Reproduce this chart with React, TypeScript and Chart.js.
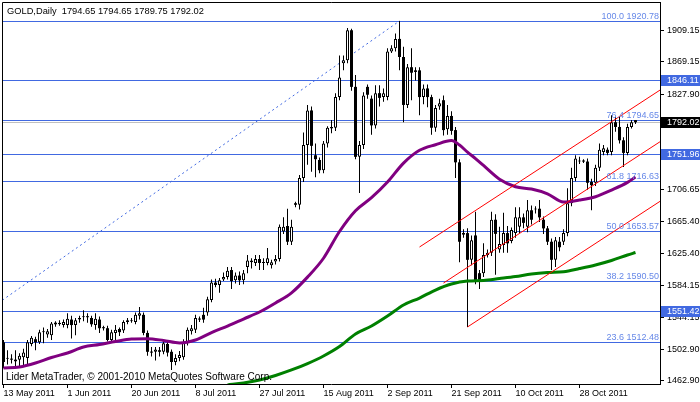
import React, { useEffect, useRef } from 'react';
import { Chart, registerables } from 'chart.js';

Chart.register(...registerables);

// ---------- data ----------
const titleText = 'GOLD,Daily  1794.65 1794.65 1789.75 1792.02';
const copyrightText = 'Lider MetaTrader, \u00A9 2001-2010 MetaQuotes Software Corp.';

const xTickIndex = [0, 16, 32, 48, 64, 80, 96, 112, 128, 144];
const xTickLabels = ['13 May 2011', '1 Jun 2011', '20 Jun 2011', '8 Jul 2011', '27 Jul 2011', '15 Aug 2011', '2 Sep 2011', '21 Sep 2011', '10 Oct 2011', '28 Oct 2011'];
const yTickValues = [1909.15, 1869.15, 1827.9, 1787.9, 1746.65, 1706.65, 1665.4, 1625.4, 1584.15, 1544.15, 1502.9, 1462.9];

// daily candles: [open, high, low, close]
const ohlc: [number, number, number, number][] = [
  [1512, 1515, 1479, 1487], [1491, 1502, 1484, 1492], [1491, 1497, 1485, 1490], [1490, 1502, 1481, 1488],
  [1490, 1498, 1482, 1495], [1493, 1504, 1483, 1499], [1492, 1515, 1483, 1512], [1510, 1520, 1507, 1518],
  [1516, 1519, 1502, 1512], [1512, 1528, 1510, 1525], [1525, 1531, 1511, 1526], [1522, 1529, 1518, 1526],
  [1521, 1538, 1515, 1536], [1537, 1539, 1532, 1535], [1535, 1540, 1533, 1537], [1534, 1541, 1531, 1538],
  [1534, 1549, 1530, 1542], [1541, 1546, 1517, 1534], [1534, 1543, 1521, 1540], [1541, 1546, 1537, 1543],
  [1544, 1553, 1539, 1545], [1545, 1549, 1537, 1544], [1543, 1546, 1532, 1535], [1534, 1549, 1528, 1542],
  [1541, 1545, 1524, 1530], [1531, 1533, 1527, 1530], [1530, 1533, 1513, 1515], [1515, 1528, 1512, 1525],
  [1524, 1534, 1512, 1528], [1529, 1531, 1520, 1525], [1527, 1540, 1524, 1538], [1538, 1543, 1535, 1540],
  [1539, 1543, 1537, 1540], [1538, 1550, 1535, 1547], [1546, 1557, 1541, 1549], [1547, 1550, 1521, 1524],
  [1524, 1527, 1495, 1500], [1500, 1506, 1494, 1499], [1500, 1506, 1489, 1503], [1502, 1506, 1494, 1500],
  [1500, 1514, 1497, 1511], [1510, 1514, 1494, 1499], [1500, 1503, 1477, 1487], [1487, 1497, 1483, 1492],
  [1492, 1501, 1488, 1496], [1493, 1516, 1490, 1512], [1512, 1531, 1508, 1528], [1526, 1534, 1522, 1530],
  [1528, 1547, 1524, 1543], [1542, 1545, 1538, 1541], [1547, 1556, 1537, 1541], [1550, 1570, 1546, 1567],
  [1566, 1592, 1563, 1588], [1588, 1593, 1582, 1585], [1585, 1594, 1575, 1591], [1592, 1601, 1590, 1595],
  [1595, 1608, 1592, 1603], [1604, 1608, 1580, 1590], [1591, 1601, 1587, 1597], [1597, 1602, 1585, 1591],
  [1591, 1604, 1586, 1600], [1608, 1623, 1600, 1616], [1614, 1619, 1606, 1616], [1613, 1623, 1609, 1618],
  [1618, 1623, 1604, 1613], [1613, 1619, 1604, 1613.5], [1613, 1632, 1610, 1619], [1610, 1617, 1606, 1614],
  [1615, 1623, 1611, 1618], [1618, 1662, 1615, 1659], [1653, 1671, 1650, 1659], [1660, 1682, 1636, 1640],
  [1640, 1668, 1636, 1659], [1689, 1691, 1684, 1687], [1687, 1725, 1681, 1721], [1721, 1779, 1716, 1763],
  [1763, 1814, 1738, 1807], [1807, 1812, 1729, 1762], [1750, 1765, 1722, 1745], [1744, 1747, 1727, 1731],
  [1731, 1768, 1727, 1765], [1765, 1787, 1760, 1785], [1784, 1795, 1778, 1786], [1785, 1829, 1781, 1824],
  [1824, 1877, 1820, 1849], [1867, 1877, 1858, 1871], [1871, 1912, 1867, 1909], [1909, 1911, 1832, 1837],
  [1837, 1852, 1745, 1748], [1748, 1768, 1702, 1763], [1763, 1830, 1758, 1826], [1837, 1840, 1822, 1827],
  [1822, 1826, 1776, 1788], [1788, 1839, 1784, 1829], [1829, 1839, 1812, 1823], [1824, 1835, 1818, 1829],
  [1824, 1886, 1820, 1882], [1882, 1890, 1880, 1886], [1886, 1905, 1882, 1898], [1898, 1920.78, 1858, 1875],
  [1875, 1888, 1792, 1814], [1814, 1866, 1810, 1862], [1862, 1886, 1820, 1855], [1858, 1862, 1845, 1856],
  [1858, 1862, 1801, 1824], [1824, 1840, 1815, 1835], [1835, 1840, 1811, 1824], [1824, 1827, 1776, 1785],
  [1785, 1814, 1780, 1810], [1812, 1822, 1808, 1816], [1820, 1826, 1775, 1782], [1783, 1814, 1776, 1800],
  [1800, 1806, 1776, 1781], [1782, 1786, 1721, 1741], [1741, 1745, 1614, 1640], [1649, 1656, 1645, 1651],
  [1651, 1657, 1531.6, 1617], [1617, 1648, 1610, 1642], [1648, 1678, 1586, 1591], [1600, 1604, 1580, 1589],
  [1600, 1638, 1595, 1623], [1623, 1630, 1620, 1626], [1626, 1678, 1622, 1668], [1668, 1675, 1598, 1650],
  [1630, 1659, 1626, 1637], [1636, 1677, 1626, 1651], [1651, 1660, 1626, 1638], [1641, 1658, 1638, 1655],
  [1651, 1684, 1645, 1671], [1659, 1684, 1651, 1671], [1671, 1676, 1657, 1664], [1659, 1693, 1652, 1680],
  [1680, 1686, 1662, 1668], [1681, 1685, 1676, 1682], [1682, 1693, 1665, 1671], [1668, 1672, 1650, 1657],
  [1657, 1660, 1636, 1640], [1640, 1644, 1604, 1617], [1617, 1646, 1608, 1642], [1640, 1646, 1628, 1633],
  [1640, 1656, 1636, 1651], [1651, 1708, 1647, 1689], [1689, 1734, 1685, 1721], [1721, 1750, 1717, 1746],
  [1742, 1748, 1739, 1743], [1743, 1745, 1740, 1742], [1742, 1746, 1706, 1715], [1716, 1720, 1680, 1712],
  [1715, 1738, 1711, 1734], [1734, 1765, 1730, 1757], [1754, 1763, 1750, 1759], [1757, 1760, 1750, 1753],
  [1754, 1801, 1750, 1792], [1792, 1799, 1780, 1786], [1786, 1799, 1765, 1769], [1769, 1773, 1735, 1753],
  [1753, 1790, 1750, 1786], [1786, 1795, 1784, 1792], [1794.65, 1794.65, 1789.75, 1792.02],
];

// moving averages read at bar indices: [barIndex, value]
const purpleMA: [number, number][] = [
  [0, 1479.4], [4, 1480.7], [8, 1485.8], [12, 1492.8], [16, 1498.5], [20, 1506.1], [24, 1509.3], [28, 1513.1],
  [32, 1516.3], [36, 1516.7], [40, 1514.4], [44, 1511.2], [48, 1515.0], [52, 1524.5], [56, 1532.8], [60, 1541.7],
  [64, 1550.6], [68, 1562.1], [72, 1575.0], [76, 1595.0], [80, 1619.0], [84, 1653.0], [88, 1679.5], [92, 1696.0],
  [96, 1715.9], [100, 1740.0], [104, 1756.3], [108, 1763.4], [112, 1768.7], [114, 1763.0], [116, 1754.0],
  [118, 1745.8], [120, 1737.0], [124, 1719.6], [128, 1710.0], [132, 1707.0], [136, 1701.0], [140, 1690.5],
  [144, 1693.0], [148, 1697.2], [152, 1705.7], [156, 1715.5], [158, 1722.3],
];
const greenMA: [number, number][] = [
  [56, 1457.8], [60, 1460.3], [64, 1464.2], [68, 1469.9], [72, 1476.9], [76, 1485.1], [80, 1494.7], [84, 1506.7],
  [88, 1522.7], [92, 1532.8], [96, 1545.5], [100, 1559.5], [104, 1568.4], [108, 1578.6], [112, 1586.2],
  [116, 1590.0], [120, 1590.7], [124, 1593.2], [128, 1595.8], [132, 1598.9], [136, 1600.8], [140, 1601.9],
  [144, 1605.9], [148, 1610.4], [152, 1616.1], [156, 1623.1], [158, 1626.3],
];

const fibLevelNames = ['100.0', '76.4', '61.8', '50.0', '38.2', '23.6'];
const fibLevelPrices = [1920.78, 1794.65, 1716.63, 1653.57, 1590.5, 1512.48];
const fibTrend: [number, number][] = [[-50.4, 1386.38], [99, 1920.78]];
const horizontalLines = [1846.11, 1751.96, 1551.42];
const bidPrice = 1792.02;

const channelUpper: [number, number][] = [[104, 1633.3], [164.125, 1832.9]];
const channelMiddle: [number, number][] = [[110, 1587.5], [164.125, 1767.2]];
const channelLower: [number, number][] = [[116, 1531.6], [164.125, 1691.4]];

// ---------- styling ----------
const FONT_FAMILY = '"Liberation Sans", Arial, sans-serif';
const FONT = `9px ${FONT_FAMILY}`;
const TITLE_FONT = `9.3px ${FONT_FAMILY}`;
const COPY_FONT = `10px ${FONT_FAMILY}`;
const LINE_BLUE = '#4169e1';
const LABEL_BLUE = '#6688e8';

const toXY = (arr: [number, number][]) => arr.map(([x, y]) => ({ x, y }));

const mtPlugin = {
  id: 'mtOverlay',
  beforeDatasetsDraw(chart: any) {
    const { ctx, chartArea: a, scales } = chart;
    const y = scales.y;
    ctx.save();
    ctx.lineWidth = 1;
    const hl = (v: number, color: string) => {
      const py = Math.round(y.getPixelForValue(v)) + 0.5;
      ctx.strokeStyle = color;
      ctx.beginPath();
      ctx.moveTo(a.left, py);
      ctx.lineTo(a.right, py);
      ctx.stroke();
    };
    hl(bidPrice, '#c0c0c0');
    fibLevelPrices.forEach((v) => hl(v, LINE_BLUE));
    horizontalLines.forEach((v) => hl(v, LINE_BLUE));
    ctx.restore();
  },
  afterDraw(chart: any) {
    const { ctx, chartArea: a, scales } = chart;
    const y = scales.y;
    ctx.save();
    // frame
    ctx.strokeStyle = '#000';
    ctx.lineWidth = 1;
    ctx.beginPath();
    ctx.moveTo(a.left + 0.5, a.bottom);
    ctx.lineTo(a.left + 0.5, a.top + 0.5);
    ctx.lineTo(a.right, a.top + 0.5);
    ctx.stroke();

    // fib labels
    ctx.font = FONT;
    ctx.fillStyle = LABEL_BLUE;
    ctx.textAlign = 'right';
    ctx.textBaseline = 'alphabetic';
    fibLevelPrices.forEach((v, k) => {
      const py = Math.round(y.getPixelForValue(v));
      ctx.fillText(`${fibLevelNames[k]} ${v.toFixed(2)}`, a.right - 1, py - 2);
    });

    // title + copyright
    ctx.fillStyle = '#000';
    ctx.textAlign = 'left';
    ctx.textBaseline = 'middle';
    ctx.font = TITLE_FONT;
    ctx.fillText(titleText, 7, 11);
    ctx.font = COPY_FONT;
    ctx.fillText(copyrightText, 6, 377);

    // price boxes on axis
    ctx.font = FONT;
    const box = (v: number, bg: string) => {
      const py = Math.round(y.getPixelForValue(v));
      ctx.fillStyle = bg;
      ctx.fillRect(a.right + 1, py - 5, 700 - a.right - 1, 11);
      ctx.fillStyle = '#fff';
      ctx.textAlign = 'left';
      ctx.textBaseline = 'middle';
      ctx.fillText(v.toFixed(2), a.right + 7, py + 0.5);
    };
    horizontalLines.forEach((v) => box(v, LINE_BLUE));
    box(bidPrice, '#000');
    ctx.restore();
  },
};

export default function App() {
  const ref = useRef<HTMLCanvasElement | null>(null);

  useEffect(() => {
    document.body.style.margin = '0';
    const canvas = ref.current;
    if (!canvas) return;

    const bodies = ohlc.map(([o, , , c], i) => ({ x: i, y: [o, c] }));
    const wicks = ohlc.map(([, h, l], i) => ({ x: i, y: [l, h] }));
    const bodyFill = ohlc.map(([o, , , c]) => (c >= o ? '#ffffff' : '#000000'));
    const bodyBorder = ohlc.map(([o, , , c]) => (c >= o ? 1 : 0));

    const tickFont = { family: FONT_FAMILY, size: 9 };

    const chart = new Chart(canvas, {
      type: 'bar',
      data: {
        datasets: [
          { type: 'line', data: toXY(channelUpper), borderColor: '#ff0000', borderWidth: 1, pointRadius: 0, order: 1, clip: 0 } as any,
          { type: 'line', data: toXY(channelMiddle), borderColor: '#ff0000', borderWidth: 1, pointRadius: 0, order: 1, clip: 0 } as any,
          { type: 'line', data: toXY(channelLower), borderColor: '#ff0000', borderWidth: 1, pointRadius: 0, order: 1, clip: 0 } as any,
          { type: 'line', data: toXY(purpleMA), borderColor: '#800080', borderWidth: 3, pointRadius: 0, cubicInterpolationMode: 'monotone', order: 2, clip: 0 } as any,
          { type: 'line', data: toXY(greenMA), borderColor: '#008000', borderWidth: 3, pointRadius: 0, cubicInterpolationMode: 'monotone', order: 3, clip: 0 } as any,
          {
            type: 'bar', data: bodies, backgroundColor: bodyFill, borderColor: '#000000', borderWidth: bodyBorder,
            borderSkipped: false, barThickness: 3, grouped: false, inflateAmount: 0, minBarLength: 1, order: 4,
          } as any,
          {
            type: 'bar', data: wicks, backgroundColor: '#000000', borderWidth: 0, barThickness: 1,
            grouped: false, inflateAmount: 0, minBarLength: 1, order: 5,
          } as any,
          { type: 'line', data: toXY(fibTrend), borderColor: LINE_BLUE, borderWidth: 1, borderDash: [2, 3], pointRadius: 0, order: 6, clip: 0 } as any,
        ],
      },
      options: {
        responsive: false,
        animation: false,
        devicePixelRatio: 1,
        events: [],
        layout: { padding: { left: 2, top: 2, right: 0, bottom: 0 } },
        plugins: { legend: { display: false }, tooltip: { enabled: false } },
        scales: {
          x: {
            type: 'linear',
            min: -0.375,
            max: 164.125,
            offset: false,
            afterBuildTicks: (s: any) => { s.ticks = xTickIndex.map((v) => ({ value: v })); },
            afterFit: (s: any) => { s.height = 18; s.paddingLeft = 0; s.paddingRight = 0; },
            ticks: {
              autoSkip: false, maxRotation: 0, minRotation: 0, align: 'start', padding: 0,
              color: '#000', font: tickFont,
              callback: (v: any) => { const k = xTickIndex.indexOf(Number(v)); return k >= 0 ? xTickLabels[k] : ''; },
            },
            grid: { drawOnChartArea: false, drawTicks: true, tickLength: 4, color: '#000', offset: false },
            border: { display: true, color: '#000' },
          },
          y: {
            type: 'linear',
            position: 'right',
            min: 1459.04,
            max: 1944.95,
            afterBuildTicks: (s: any) => { s.ticks = yTickValues.map((v) => ({ value: v })); },
            afterFit: (s: any) => { s.width = 40; s.paddingTop = 0; s.paddingBottom = 0; },
            ticks: {
              autoSkip: false, padding: 3, color: '#000', font: tickFont,
              callback: (v: any) => Number(v).toFixed(2),
            },
            grid: { drawOnChartArea: false, drawTicks: true, tickLength: 4, color: '#000' },
            border: { display: true, color: '#000' },
          },
        },
      } as any,
      plugins: [mtPlugin],
    });

    return () => chart.destroy();
  }, []);

  return (
    <div style={{ width: 700, height: 402, background: '#ffffff' }}>
      <canvas ref={ref} width={700} height={402} style={{ display: 'block', width: 700, height: 402 }} />
    </div>
  );
}
